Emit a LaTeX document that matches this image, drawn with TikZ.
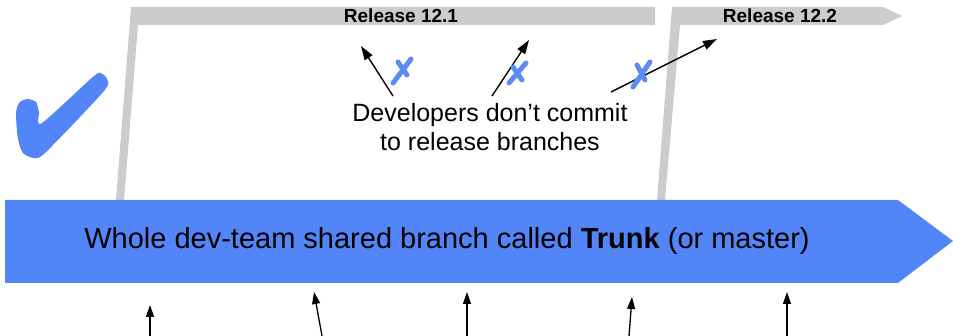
\documentclass[tikz,border=0pt]{standalone}
\usepackage{fontspec}
\setmainfont{Liberation Sans}
\usetikzlibrary{arrows.meta}
\definecolor{trunkblue}{HTML}{5285F7}
\definecolor{bargray}{HTML}{CCCCCC}
\definecolor{xblue}{HTML}{5B8CF5}
\begin{document}
\begin{tikzpicture}[x=1pt,y=-1pt,
  commitarrow/.style={-{Triangle[length=12pt,width=8pt]}, line width=1.3pt, black},
  devarrow/.style={-{Triangle[length=14pt,width=9pt]}, line width=1.4pt, black},
  xmark/.style={xblue, line width=5pt, line cap=round},
  rellabel/.style={font=\bfseries\fontsize{19}{22}\selectfont, inner sep=0pt},
  barshape/.style={fill=bargray}]
\useasboundingbox (0,0) rectangle (953,336);
% release branches
\fill[barshape] (116,200) -- (131,7) -- (655,7) -- (655,25) -- (138,25) -- (124,200) -- cycle;
\fill[barshape] (657,200) -- (672,7) -- (883,7) -- (902,16) -- (883,25) -- (680,25) -- (665,200) -- cycle;
\node[rellabel] (rel1) at (401,16) {Release 12.1};
\node[rellabel] (rel2) at (780,16) {Release 12.2};
% trunk
\fill[trunkblue] (5,200) -- (898,200) -- (953,241) -- (898,283) -- (5,283) -- cycle;
\node[font=\fontsize{29}{34}\selectfont, inner sep=0pt] (trunk) at (447,241) {Whole dev-team shared branch called \textbf{Trunk} (or master)};
% check mark
\fill[trunkblue, line join=round] plot[smooth cycle, tension=0.45] coordinates {
  (27,99) (36,102) (39,112) (42,123) (94,76) (102,74) (107,79) (104,91)
  (46,152) (34,158) (23,153) (18,139) (16,114) (19,103)};
% caption
\node[align=center, font=\fontsize{25}{29}\selectfont, inner sep=0pt] (dev) at (490,127) {Developers don’t commit\\to release branches};
% developer arrows to release branches
\coordinate (t1) at (393,96); \coordinate (h1) at (361,46);
\coordinate (t2) at (492,96); \coordinate (h2) at (529,40);
\coordinate (t3) at (611,92); \coordinate (h3) at (717,39);
\draw[devarrow] (t1) -- (h1);
\draw[devarrow] (t2) -- (h2);
\draw[devarrow] (t3) -- (h3);
% crosses
\draw[xmark] (393,83) -- (411,59) (398,62) -- (407,75);
\draw[xmark] (509,83) -- (526,63) (513,67) -- (522,80);
\draw[xmark] (633,87) -- (650,62) (637,65) -- (645,80);
% commits to trunk
\coordinate (b1) at (150,336); \coordinate (c1) at (150,305);
\coordinate (b2) at (322,336); \coordinate (c2) at (314,292);
\coordinate (b3) at (467,336); \coordinate (c3) at (467,292);
\coordinate (b4) at (629,336); \coordinate (c4) at (632,297);
\coordinate (b5) at (787,336); \coordinate (c5) at (787,292);
\foreach \i in {1,...,5} \draw[commitarrow] (b\i) -- (c\i);
\end{tikzpicture}
\end{document}
